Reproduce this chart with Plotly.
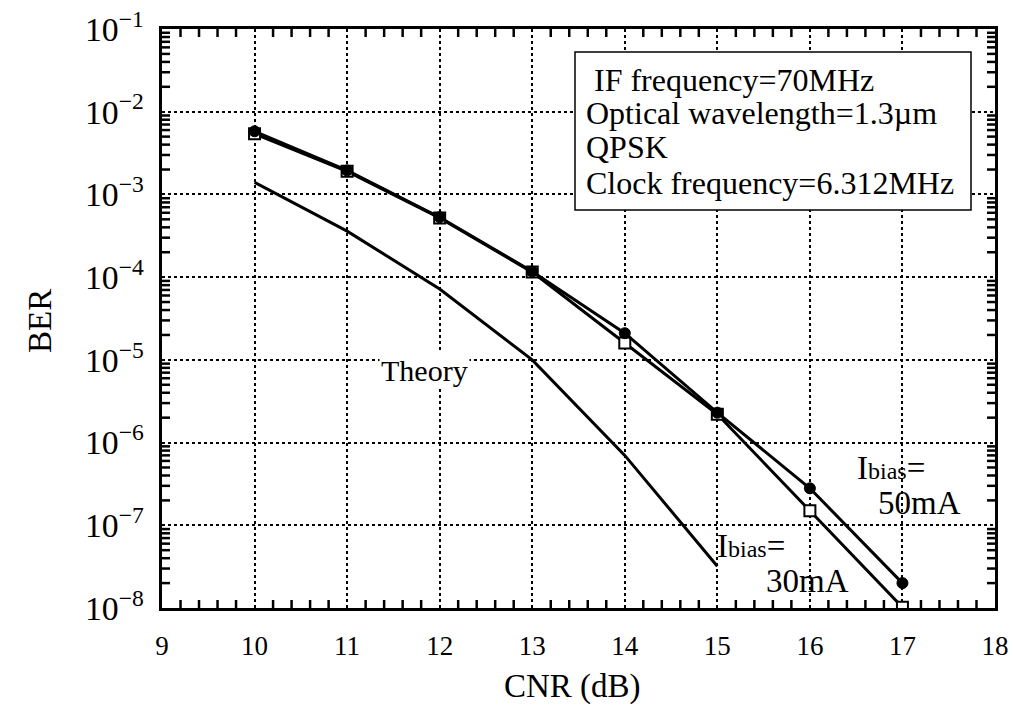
import plotly.graph_objects as go

cnr = [10, 11, 12, 13, 14, 15, 16, 17]
ber_50mA = [5.8e-3, 1.95e-3, 5.3e-4, 1.17e-4, 2.1e-5, 2.3e-6, 2.8e-7, 2.0e-8]
ber_30mA = [5.4e-3, 1.9e-3, 5.2e-4, 1.15e-4, 1.6e-5, 2.2e-6, 1.5e-7, 1.02e-8]
cnr_theory = [10, 11, 12, 13, 14, 15]
ber_theory = [1.4e-3, 3.6e-4, 7.2e-5, 1.0e-5, 7.0e-7, 3.2e-8]

info_lines = [" IF frequency=70MHz", "Optical wavelength=1.3\u00b5m", "QPSK",
              "Clock frequency=6.312MHz"]

FONT = "Liberation Serif"
X_RANGE = [9, 18]
Y_RANGE = [-8, -1]

fig = go.Figure()

# minor tick marks (inside, on all four sides), built from the axis ranges
TLX = 8 / 92.5   # tick length in x units (about 8 px)
TLY = 8 / 82.7   # tick length in decades (about 8 px)
tx, ty = [], []
for i in range(int(round((X_RANGE[1] - X_RANGE[0]) / 0.2)) + 1):
    if i % 5 == 0:
        continue
    xv = X_RANGE[0] + i * 0.2
    tx += [xv, xv, None, xv, xv, None]
    ty += [10 ** Y_RANGE[0], 10 ** (Y_RANGE[0] + TLY), None,
           10 ** (Y_RANGE[1] - TLY), 10 ** Y_RANGE[1], None]
for e in range(Y_RANGE[0], Y_RANGE[1]):
    for d in range(2, 10):
        yv = d * 10.0 ** e
        tx += [X_RANGE[0], X_RANGE[0] + TLX, None, X_RANGE[1] - TLX, X_RANGE[1], None]
        ty += [yv, yv, None, yv, yv, None]
fig.add_trace(go.Scatter(x=tx, y=ty, mode="lines", line=dict(color="black", width=2.5),
                         hoverinfo="skip", showlegend=False, connectgaps=False))

fig.add_trace(go.Scatter(x=cnr_theory, y=ber_theory, mode="lines",
                         line=dict(color="black", width=3), showlegend=False))
fig.add_trace(go.Scatter(x=cnr, y=ber_30mA, mode="lines+markers",
                         line=dict(color="black", width=3),
                         marker=dict(symbol="square", size=11, color="white",
                                     line=dict(color="black", width=2)),
                         showlegend=False))
fig.add_trace(go.Scatter(x=cnr, y=ber_50mA, mode="lines+markers",
                         line=dict(color="black", width=3),
                         marker=dict(symbol="circle", size=11, color="black",
                                     line=dict(color="black", width=1)),
                         showlegend=False))

fig.update_layout(template="none")

axis_common = dict(showline=True, linecolor="black", linewidth=2.5, mirror=True,
                   showgrid=True, gridcolor="black", gridwidth=1.5, griddash="dot",
                   ticks="", tickfont=dict(family=FONT, size=27, color="black"),
                   zeroline=False)
fig.update_xaxes(range=X_RANGE, tickmode="linear", tick0=9, dtick=1,
                 ticklabelstandoff=12, **axis_common)
fig.update_yaxes(type="log", range=Y_RANGE, tickmode="linear", tick0=0, dtick=1,
                 exponentformat="power", ticklabelstandoff=10, **axis_common)

# info box
box_x0, box_x1, box_y0, box_y1 = (575 - 162) / 833, (971 - 162) / 833, (608 - 210) / 579, (608 - 52) / 579
fig.add_shape(type="rect", xref="paper", yref="paper", x0=box_x0, x1=box_x1,
              y0=box_y0, y1=box_y1, fillcolor="white", line=dict(color="black", width=1.5),
              layer="above")
line_y = [80, 113, 147, 183]
for txt, py in zip(info_lines, line_y):
    fig.add_annotation(xref="paper", yref="paper", x=(584 - 162) / 833, y=(608 - py) / 579,
                       text=txt, showarrow=False, xanchor="left", yanchor="middle",
                       font=dict(family=FONT, size=32, color="black"))

def px2x(px):
    return 9 + (px - 162) / 92.5

def py2y(py):
    return -1 - (py - 29) / 82.7

def bias_label(px, py):
    fig.add_annotation(x=px2x(px), y=py2y(py), xref="x", yref="y", showarrow=False,
                       xanchor="left", yanchor="middle",
                       text="I<span style='font-size:24px'>bias</span>=",
                       font=dict(family=FONT, size=33, color="black"))

def ma_label(px, py, txt):
    fig.add_annotation(x=px2x(px), y=py2y(py), text=txt, showarrow=False, xanchor="left",
                       yanchor="middle", font=dict(family=FONT, size=33, color="black"))

bias_label(855, 468)
ma_label(876, 503, "50mA")
bias_label(715, 546)
ma_label(764, 581, "30mA")
fig.add_annotation(x=px2x(424), y=py2y(370), text="Theory", showarrow=False,
                   xanchor="center", yanchor="middle", bgcolor="white",
                   font=dict(family=FONT, size=30, color="black"))

fig.add_annotation(xref="paper", yref="paper", x=(572 - 162) / 833, y=(608 - 686) / 579,
                   text="CNR (dB)", showarrow=False, xanchor="center", yanchor="middle",
                   font=dict(family=FONT, size=33, color="black"))
fig.add_annotation(xref="paper", yref="paper", x=(40 - 162) / 833, y=(608 - 321) / 579,
                   text="BER", showarrow=False, xanchor="center", yanchor="middle",
                   textangle=-90, font=dict(family=FONT, size=33, color="black"))

fig.update_layout(width=1013, height=726, margin=dict(l=162, r=18, t=29, b=118),
                  plot_bgcolor="white", paper_bgcolor="white", showlegend=False)

fig.write_html("out.html")
